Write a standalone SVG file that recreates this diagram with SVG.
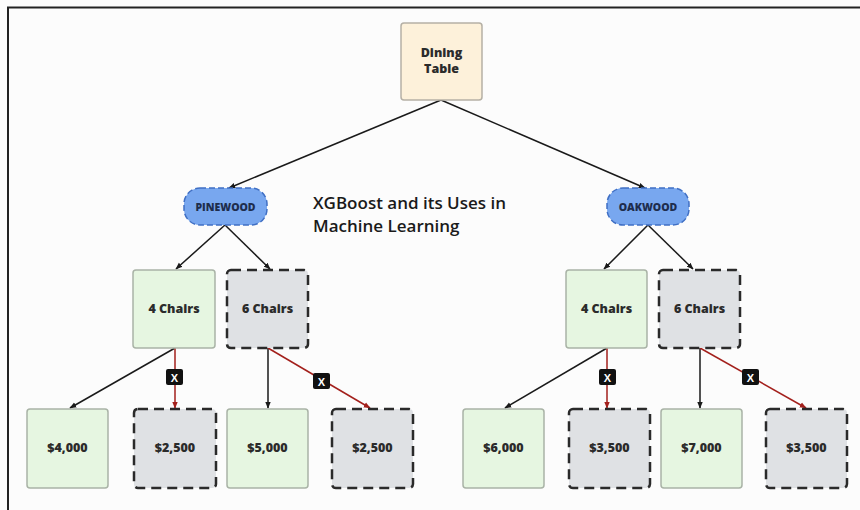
<svg xmlns="http://www.w3.org/2000/svg" width="860" height="510" viewBox="0 0 860 510">
<defs>
<marker id="ab" viewBox="0 0 10 10" refX="9" refY="5" markerWidth="7" markerHeight="7" orient="auto-start-reverse" markerUnits="userSpaceOnUse"><path d="M0,1 L10,5 L0,9 z" fill="#1a1a1a"/></marker>
<marker id="ar" viewBox="0 0 10 10" refX="9" refY="5" markerWidth="7" markerHeight="7" orient="auto-start-reverse" markerUnits="userSpaceOnUse"><path d="M0,1 L10,5 L0,9 z" fill="#a3201c"/></marker>
<style>
.lbl{font-family:"Open Sans","Liberation Sans",sans-serif;font-weight:800;fill:#2b2b2b;text-anchor:middle;dominant-baseline:central;font-size:12.5px}
.keep rect{fill:#e6f6e1;stroke:#a9b3a6;stroke-width:1.5}
.drop rect{fill:#dfe1e4;stroke:#2a2a2a;stroke-width:2.5;stroke-dasharray:10,6}
.pill rect{fill:#78a7ef;stroke:#3f6fc4;stroke-width:1.5;stroke-dasharray:6,3}
.pill .lbl{font-size:10.5px;fill:#1e2d4d}
.c line{fill:none;stroke-width:1.5}
.blk{stroke:#1a1a1a}
.red{stroke:#a3201c}
.xb rect{fill:#111}
.xb text{fill:#fff;font-family:"Liberation Sans",sans-serif;font-weight:700;font-size:11px;text-anchor:middle;dominant-baseline:central}
.title{font-family:"Open Sans","Liberation Sans",sans-serif;font-weight:600;font-size:17px;fill:#1a1a1a}
</style>
</defs>
<rect width="860" height="510" fill="#fcfcfc"/>
<line x1="7" y1="7.5" x2="860" y2="7.5" stroke="#222" stroke-width="2"/>
<line x1="8" y1="7" x2="8" y2="510" stroke="#222" stroke-width="2"/>

<g id="connectors" class="c">
<line class="blk" x1="441" y1="100" x2="229" y2="188" marker-end="url(#ab)"/>
<line class="blk" x1="441" y1="100" x2="645" y2="188" marker-end="url(#ab)"/>
<line class="blk" x1="225" y1="225" x2="176" y2="269" marker-end="url(#ab)"/>
<line class="blk" x1="225" y1="225" x2="270" y2="269" marker-end="url(#ab)"/>
<line class="blk" x1="648" y1="225" x2="604" y2="269" marker-end="url(#ab)"/>
<line class="blk" x1="648" y1="225" x2="693" y2="269" marker-end="url(#ab)"/>
<line class="blk" x1="175" y1="348" x2="70" y2="408" marker-end="url(#ab)"/>
<line class="red" x1="175" y1="348" x2="175" y2="408" marker-end="url(#ar)"/>
<line class="blk" x1="268" y1="348" x2="268" y2="408" marker-end="url(#ab)"/>
<line class="red" x1="268" y1="348" x2="370" y2="408" marker-end="url(#ar)"/>
<line class="blk" x1="607" y1="348" x2="505" y2="408" marker-end="url(#ab)"/>
<line class="red" x1="607" y1="348" x2="607" y2="408" marker-end="url(#ar)"/>
<line class="blk" x1="700" y1="348" x2="700" y2="408" marker-end="url(#ab)"/>
<line class="red" x1="700" y1="348" x2="806" y2="408" marker-end="url(#ar)"/>
<g class="xb"><rect x="166" y="369" width="17" height="16" rx="2"/><text x="174.5" y="377.5">X</text></g>
<g class="xb"><rect x="313" y="373" width="17" height="16" rx="2"/><text x="321.5" y="381.5">X</text></g>
<g class="xb"><rect x="599" y="369" width="17" height="16" rx="2"/><text x="607.5" y="377.5">X</text></g>
<g class="xb"><rect x="742" y="369" width="17" height="16" rx="2"/><text x="750.5" y="377.5">X</text></g>
</g>

<g id="dining-table"><rect x="401" y="23" width="81" height="77" rx="3" fill="#fdf1da" stroke="#b5b0a5" stroke-width="1.5"/><text class="lbl" x="441.5" y="52">Dining</text><text class="lbl" x="441.5" y="68">Table</text></g>

<g id="pinewood" class="pill"><rect x="184" y="188" width="83" height="37" rx="16"/><text class="lbl" x="225.5" y="206.5">PINEWOOD</text></g>
<g id="oakwood" class="pill"><rect x="607" y="188" width="82" height="37" rx="16"/><text class="lbl" x="648" y="206.5">OAKWOOD</text></g>

<text class="title" x="313" y="209">XGBoost and its Uses in</text>
<text class="title" x="313" y="232">Machine Learning</text>

<g id="p-4chairs" class="keep"><rect x="133" y="270" width="82" height="78" rx="3"/><text class="lbl" x="174" y="308">4 Chairs</text></g>
<g id="p-6chairs" class="drop"><rect x="227" y="270" width="81" height="78" rx="4"/><text class="lbl" x="267.5" y="308">6 Chairs</text></g>
<g id="o-4chairs" class="keep"><rect x="566" y="270" width="81" height="78" rx="3"/><text class="lbl" x="606.5" y="308">4 Chairs</text></g>
<g id="o-6chairs" class="drop"><rect x="659" y="270" width="81" height="78" rx="4"/><text class="lbl" x="699.5" y="308">6 Chairs</text></g>

<g id="leaf-4000" class="keep"><rect x="27" y="409" width="81" height="79" rx="3"/><text class="lbl" x="67.5" y="447">$4,000</text></g>
<g id="leaf-2500a" class="drop"><rect x="134" y="409" width="82" height="79" rx="4"/><text class="lbl" x="175" y="447">$2,500</text></g>
<g id="leaf-5000" class="keep"><rect x="227" y="409" width="81" height="79" rx="3"/><text class="lbl" x="267.5" y="447">$5,000</text></g>
<g id="leaf-2500b" class="drop"><rect x="332" y="409" width="81" height="79" rx="4"/><text class="lbl" x="372.5" y="447">$2,500</text></g>
<g id="leaf-6000" class="keep"><rect x="463" y="409" width="81" height="79" rx="3"/><text class="lbl" x="503.5" y="447">$6,000</text></g>
<g id="leaf-3500a" class="drop"><rect x="569" y="409" width="81" height="79" rx="4"/><text class="lbl" x="609.5" y="447">$3,500</text></g>
<g id="leaf-7000" class="keep"><rect x="661" y="409" width="81" height="79" rx="3"/><text class="lbl" x="701.5" y="447">$7,000</text></g>
<g id="leaf-3500b" class="drop"><rect x="766" y="409" width="81" height="79" rx="4"/><text class="lbl" x="806.5" y="447">$3,500</text></g>
</svg>
